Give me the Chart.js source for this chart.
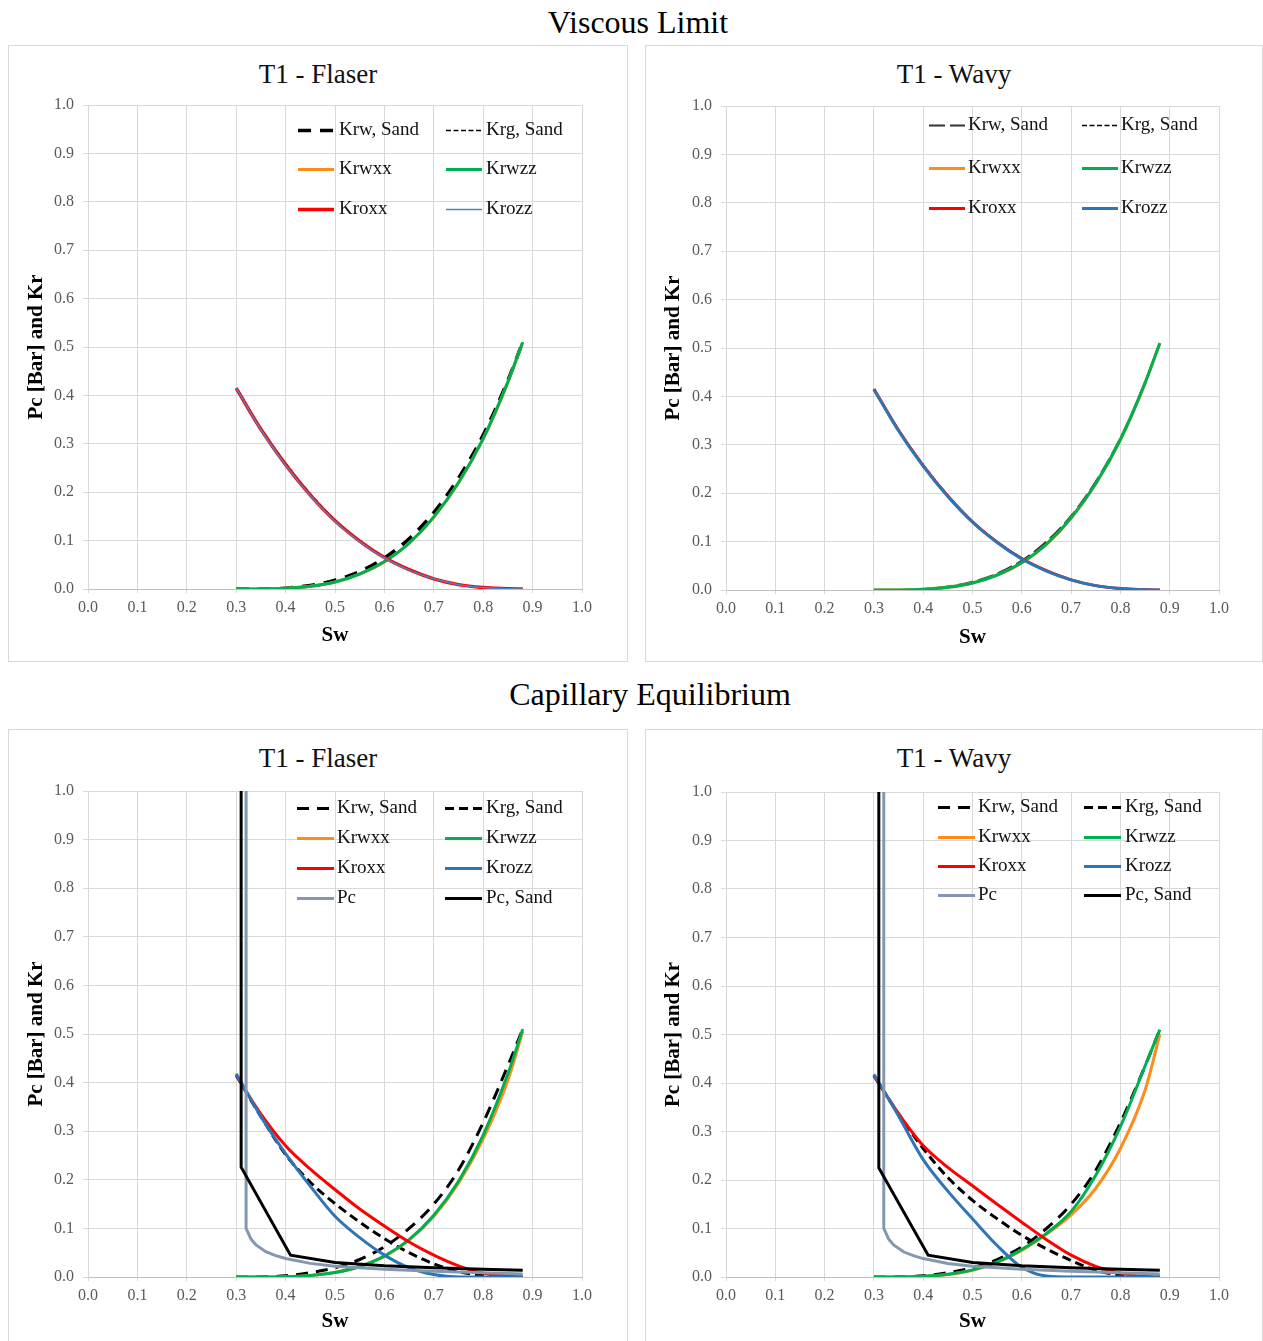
<!DOCTYPE html>
<html><head><meta charset="utf-8">
<script src="https://cdn.jsdelivr.net/npm/chart.js@4.4.1/dist/chart.umd.min.js"></script>
<style>
html,body{margin:0;padding:0;background:#fff;}
body{width:1263px;height:1341px;overflow:hidden;position:relative;font-family:"Liberation Serif","Times New Roman",serif;}
.sec{position:absolute;text-align:center;font-size:32px;line-height:38px;color:#000;}
.box{position:absolute;border:1px solid #d9d9d9;box-sizing:border-box;}
.ptitle{position:absolute;text-align:center;font-size:27px;line-height:32px;color:#111;}
canvas{position:absolute;}
</style></head><body>
<div class="sec" style="left:0;width:1276px;top:3px;">Viscous Limit</div>
<div class="sec" style="left:0;width:1300px;top:675px;">Capillary Equilibrium</div>

<div class="box" style="left:8px;top:45px;width:620px;height:617px;"></div>
<div class="box" style="left:645px;top:45px;width:618px;height:617px;"></div>
<div class="box" style="left:8px;top:729px;width:620px;height:640px;"></div>
<div class="box" style="left:645px;top:729px;width:618px;height:640px;"></div>

<div class="ptitle" style="left:8px;width:620px;top:58px;">T1 - Flaser</div>
<div class="ptitle" style="left:645px;width:618px;top:58px;">T1 - Wavy</div>
<div class="ptitle" style="left:8px;width:620px;top:742px;">T1 - Flaser</div>
<div class="ptitle" style="left:645px;width:618px;top:742px;">T1 - Wavy</div>

<canvas id="c1" width="617" height="604" style="left:9px;top:46px;"></canvas>
<canvas id="c2" width="616" height="606" style="left:646px;top:46px;"></canvas>
<canvas id="c3" width="617" height="606" style="left:9px;top:730px;"></canvas>
<canvas id="c4" width="616" height="606" style="left:646px;top:730px;"></canvas>

<script>
// ---------- DATA ----------
const seriesNames = ['Krw, Sand','Krg, Sand','Krwxx','Krwzz','Kroxx','Krozz','Pc','Pc, Sand'];
const sw = [0.30,0.35,0.40,0.45,0.50,0.55,0.60,0.65,0.70,0.75,0.80,0.85,0.88];

// Viscous Limit - T1 Flaser
const vfKrwSand = [0,0.0002,0.0018,0.0075,0.018,0.036,0.064,0.104,0.158,0.229,0.318,0.431,0.51];
const vfKrgSand = [0.415,0.332,0.260,0.197,0.143,0.100,0.066,0.040,0.021,0.009,0.003,0.0003,0];
const vfKrwxx   = [0,0.0001,0.0014,0.0056,0.0146,0.0307,0.056,0.094,0.148,0.219,0.310,0.427,0.51];
const vfKrwzz   = [0,0.0001,0.0014,0.0056,0.0146,0.031,0.057,0.095,0.149,0.220,0.311,0.428,0.51];
const vfKroxx   = [0.415,0.330,0.257,0.194,0.141,0.099,0.065,0.040,0.021,0.009,0.003,0.0003,0];
const vfKrozz   = [0.415,0.329,0.256,0.193,0.140,0.098,0.064,0.039,0.021,0.009,0.003,0.0003,0];

// Viscous Limit - T1 Wavy
const vwKrwSand = [0,0.0002,0.0016,0.007,0.017,0.034,0.061,0.100,0.153,0.224,0.314,0.429,0.51];
const vwKrgSand = [0.415,0.331,0.259,0.196,0.142,0.100,0.066,0.040,0.021,0.009,0.003,0.0003,0];
const vwKrwxx   = [0,0.0001,0.0014,0.0056,0.0146,0.0307,0.056,0.094,0.148,0.219,0.310,0.427,0.51];
const vwKrwzz   = [0,0.0001,0.0014,0.0056,0.0146,0.031,0.057,0.095,0.149,0.220,0.311,0.428,0.51];
const vwKroxx   = [0.415,0.330,0.257,0.194,0.141,0.099,0.065,0.040,0.021,0.009,0.003,0.0003,0];
const vwKrozz   = [0.415,0.329,0.256,0.193,0.140,0.098,0.064,0.039,0.021,0.009,0.003,0.0003,0];

// Capillary Equilibrium - T1 Flaser
const cfKrwSand = [0,0.0003,0.0025,0.009,0.019,0.036,0.062,0.100,0.150,0.220,0.318,0.435,0.51];
const cfKrgSand = [0.415,0.330,0.252,0.195,0.151,0.113,0.079,0.050,0.027,0.011,0.003,0,0];
const cfKrwxx   = [0,0.0001,0.0007,0.0032,0.0094,0.0217,0.043,0.076,0.125,0.193,0.284,0.405,0.505];
const cfKrwzz   = [0,0.0001,0.0007,0.0032,0.0094,0.0217,0.043,0.077,0.127,0.197,0.292,0.418,0.51];
const cfKroxx   = [0.415,0.335,0.270,0.222,0.180,0.140,0.105,0.072,0.045,0.023,0.008,0.002,0];
const cfKrozz   = [0.418,0.330,0.254,0.187,0.125,0.081,0.045,0.019,0.005,0,0,0,0];
const cfPcSw    = [0.32,0.32,0.33,0.34,0.36,0.38,0.40,0.45,0.50,0.60,0.70,0.80,0.88];
const cfPc      = [1.0,0.100,0.078,0.066,0.052,0.044,0.038,0.028,0.022,0.016,0.012,0.009,0.006];
const cfPcSandSw= [0.31,0.31,0.41,0.50,0.60,0.70,0.80,0.88];
const cfPcSand  = [1.0,0.226,0.045,0.030,0.023,0.019,0.016,0.014];

// Capillary Equilibrium - T1 Wavy
const cwKrwSand = [0,0.0003,0.0025,0.009,0.019,0.036,0.062,0.100,0.150,0.220,0.318,0.435,0.51];
const cwKrgSand = [0.415,0.336,0.265,0.205,0.158,0.120,0.086,0.058,0.034,0.014,0.004,0,0];
const cwKrwxx   = [0,0.0001,0.0012,0.005,0.014,0.030,0.055,0.088,0.128,0.183,0.265,0.385,0.50];
const cwKrwzz   = [0,0.0001,0.0014,0.0056,0.0146,0.031,0.057,0.090,0.135,0.210,0.310,0.435,0.51];
const cwKroxx   = [0.415,0.337,0.271,0.226,0.188,0.150,0.113,0.077,0.045,0.022,0.008,0.001,0];
const cwKrozz   = [0.418,0.332,0.242,0.177,0.120,0.065,0.020,0.002,0,0,0,0,0];
const cwPcSw    = [0.32,0.32,0.33,0.34,0.36,0.38,0.40,0.45,0.50,0.60,0.70,0.80,0.88];
const cwPc      = [1.0,0.100,0.078,0.066,0.052,0.044,0.038,0.028,0.022,0.016,0.012,0.009,0.006];
const cwPcSandSw= [0.31,0.31,0.41,0.50,0.60,0.70,0.80,0.88];
const cwPcSand  = [1.0,0.225,0.045,0.030,0.023,0.019,0.016,0.014];

const axisTicks = [0,0.1,0.2,0.3,0.4,0.5,0.6,0.7,0.8,0.9,1.0];
const yTitle = 'Pc [Bar] and Kr';
const xTitle = 'Sw';

// ---------- STYLES ----------
const C = {orange:'#ff8c1a', green:'#00b050', red:'#ff0000', blue:'#2e75b6', blueLight:'#4a86c8', pc:'#8497b0', black:'#000000'};
const FONT = '"Liberation Serif", "Times New Roman", serif';

function pts(xs, ys){ return xs.map((x,i)=>({x:x, y:ys[i]})); }
function ds(label, xs, ys, style, idx){
  return Object.assign({label, data: pts(xs, ys), pointRadius:0, fill:false,
    cubicInterpolationMode:'monotone', order:-idx, borderCapStyle:'butt'}, style);
}

const insideLegend = {
  id:'insideLegend',
  afterDatasetsDraw(chart){
    const o = chart.config.options.legendSpec;
    const {ctx, chartArea:{left, top}} = chart;
    ctx.save();
    ctx.font = '19px ' + FONT;
    ctx.textBaseline = 'middle';
    ctx.textAlign = 'left';
    chart.data.datasets.forEach((d,i)=>{
      const col = o.cols[i%2];
      const y = Math.round(top + o.rows[Math.floor(i/2)]) + 0.5;
      const lx = left + col.line;
      ctx.strokeStyle = d.borderColor;
      ctx.lineWidth = d.borderWidth;
      ctx.lineCap = 'butt';
      ctx.setLineDash(d.borderDash || []);
      ctx.beginPath(); ctx.moveTo(lx, y); ctx.lineTo(lx + o.len, y); ctx.stroke();
      ctx.setLineDash([]);
      ctx.fillStyle = '#111';
      ctx.fillText(d.label, left + col.text, y);
    });
    ctx.restore();
  }
};

function makeChart(id, datasets, lay, legendSpec){
  new Chart(document.getElementById(id), {
    type:'line',
    data:{datasets},
    plugins:[insideLegend],
    options:{
      responsive:false, animation:false, events:[],
      legendSpec,
      layout:{padding:{top:lay.padTop, right:lay.padRight, left:0, bottom:0}},
      plugins:{legend:{display:false}, tooltip:{enabled:false}, title:{display:false}},
      elements:{line:{tension:0}},
      scales:{
        x:{type:'linear', min:0, max:1,
          afterBuildTicks:(s)=>{ s.ticks = axisTicks.map(v=>({value:v})); },
          ticks:{callback:(v)=>Number(v).toFixed(1), font:{family:FONT, size:16}, color:'#595959', padding:5, maxRotation:0, autoSkip:false},
          grid:{color:'#d9d9d9', lineWidth:1, tickLength:4, tickColor:'#d9d9d9'},
          border:{color:'#bfbfbf', width:1},
          title:{display:true, text:xTitle, font:{family:FONT, size:21, weight:'bold'}, color:'#000', padding:{top:0, bottom:2}},
          afterFit:(s)=>{ s.height = lay.xH; }
        },
        y:{type:'linear', min:0, max:1,
          afterBuildTicks:(s)=>{ s.ticks = axisTicks.map(v=>({value:v})); },
          ticks:{callback:(v)=>Number(v).toFixed(1), font:{family:FONT, size:16}, color:'#595959', padding:9},
          grid:{color:'#d9d9d9', lineWidth:1, tickLength:5, tickColor:'#d9d9d9'},
          border:{color:'#d9d9d9', width:1},
          title:{display:true, text:yTitle, font:{family:FONT, size:21, weight:'bold'}, color:'#000', padding:{top:14.5, bottom:0}},
          afterFit:(s)=>{ s.width = lay.yW; }
        }
      }
    }
  });
}

// Panel 1: Viscous / Flaser
makeChart('c1', [
  ds(seriesNames[0], sw, vfKrwSand, {borderColor:C.black, borderWidth:3.5, borderDash:[13,9]}, 0),
  ds(seriesNames[1], sw, vfKrgSand, {borderColor:C.black, borderWidth:1.5, borderDash:[5,2.5]}, 1),
  ds(seriesNames[2], sw, vfKrwxx,   {borderColor:C.orange, borderWidth:3}, 2),
  ds(seriesNames[3], sw, vfKrwzz,   {borderColor:C.green, borderWidth:3}, 3),
  ds(seriesNames[4], sw, vfKroxx,   {borderColor:C.red, borderWidth:3.5}, 4),
  ds(seriesNames[5], sw, vfKrozz,   {borderColor:C.blueLight, borderWidth:1.5}, 5)
], {padTop:59, padRight:44, yW:79, xH:61},
{cols:[{line:210, text:251},{line:358, text:398}], len:36, rows:[25,64,104]});

// Panel 2: Viscous / Wavy
makeChart('c2', [
  ds(seriesNames[0], sw, vwKrwSand, {borderColor:'#333333', borderWidth:2, borderDash:[16,5]}, 0),
  ds(seriesNames[1], sw, vwKrgSand, {borderColor:C.black, borderWidth:1.5, borderDash:[5,2.5]}, 1),
  ds(seriesNames[2], sw, vwKrwxx,   {borderColor:C.orange, borderWidth:3}, 2),
  ds(seriesNames[3], sw, vwKrwzz,   {borderColor:C.green, borderWidth:3}, 3),
  ds(seriesNames[4], sw, vwKroxx,   {borderColor:C.red, borderWidth:3}, 4),
  ds(seriesNames[5], sw, vwKrozz,   {borderColor:C.blue, borderWidth:3}, 5)
], {padTop:60, padRight:43, yW:80, xH:62},
{cols:[{line:203, text:242},{line:356, text:395}], len:36, rows:[19,62,102]});

// Panel 3: Capillary / Flaser
makeChart('c3', [
  ds(seriesNames[0], sw, cfKrwSand, {borderColor:C.black, borderWidth:3, borderDash:[12,8]}, 0),
  ds(seriesNames[1], sw, cfKrgSand, {borderColor:C.black, borderWidth:3, borderDash:[9,5]}, 1),
  ds(seriesNames[2], sw, cfKrwxx,   {borderColor:C.orange, borderWidth:3}, 2),
  ds(seriesNames[3], sw, cfKrwzz,   {borderColor:C.green, borderWidth:3}, 3),
  ds(seriesNames[4], sw, cfKroxx,   {borderColor:C.red, borderWidth:3}, 4),
  ds(seriesNames[5], sw, cfKrozz,   {borderColor:C.blue, borderWidth:3}, 5),
  ds(seriesNames[6], cfPcSw, cfPc,  {borderColor:C.pc, borderWidth:3, cubicInterpolationMode:'default', tension:0}, 6),
  ds(seriesNames[7], cfPcSandSw, cfPcSand, {borderColor:C.black, borderWidth:3, cubicInterpolationMode:'default', tension:0}, 7)
], {padTop:61, padRight:44, yW:79, xH:59},
{cols:[{line:209, text:249},{line:357, text:398}], len:37, rows:[17,47,77,107]});

// Panel 4: Capillary / Wavy
makeChart('c4', [
  ds(seriesNames[0], sw, cwKrwSand, {borderColor:C.black, borderWidth:3, borderDash:[12,8]}, 0),
  ds(seriesNames[1], sw, cwKrgSand, {borderColor:C.black, borderWidth:3, borderDash:[9,5]}, 1),
  ds(seriesNames[2], sw, cwKrwxx,   {borderColor:C.orange, borderWidth:3}, 2),
  ds(seriesNames[3], sw, cwKrwzz,   {borderColor:C.green, borderWidth:3}, 3),
  ds(seriesNames[4], sw, cwKroxx,   {borderColor:C.red, borderWidth:3}, 4),
  ds(seriesNames[5], sw, cwKrozz,   {borderColor:C.blue, borderWidth:3}, 5),
  ds(seriesNames[6], cwPcSw, cwPc,  {borderColor:C.pc, borderWidth:3, cubicInterpolationMode:'default', tension:0}, 6),
  ds(seriesNames[7], cwPcSandSw, cwPcSand, {borderColor:C.black, borderWidth:3, cubicInterpolationMode:'default', tension:0}, 7)
], {padTop:62, padRight:43, yW:80, xH:59},
{cols:[{line:212, text:252},{line:358, text:399}], len:37, rows:[15,45,74,103]});
</script>
</body></html>
